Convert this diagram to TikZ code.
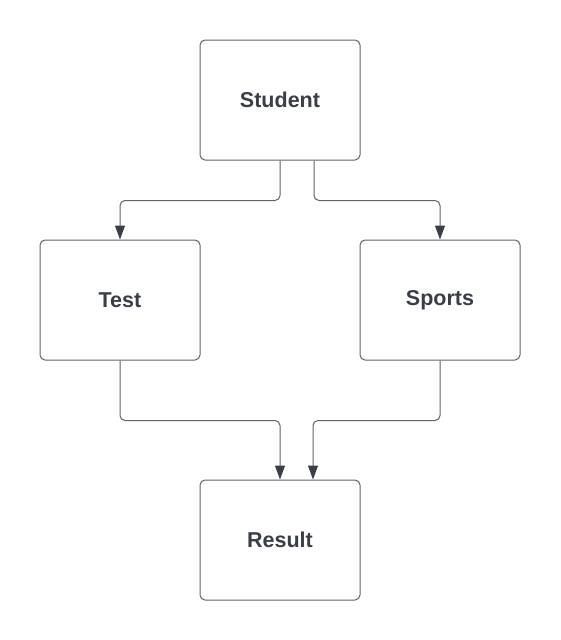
\documentclass[tikz,border=0pt]{standalone}
\usepackage{fontspec}
\setmainfont{Liberation Sans}
\usetikzlibrary{arrows.meta}
\definecolor{inkgray}{HTML}{3A3F47}
\definecolor{linegray}{HTML}{626366}

\begin{document}
\begin{tikzpicture}[x=1pt,y=-1pt,
  entity/.style={draw=linegray,line width=1pt,rounded corners=5pt,
    minimum width=160pt,minimum height=120pt,
    text=inkgray,font=\fontsize{21.5}{25}\selectfont\bfseries},
  link/.style={draw=linegray,line width=1pt,rounded corners=5pt,
    -{Triangle[width=10pt,length=14pt,color=inkgray]}}]
\useasboundingbox (0,0) rectangle (560,640);
\node[entity] (student) at (280,100) {Student};
\node[entity] (test)    at (120,300) {Test};
\node[entity] (sports)  at (440,300) {Sports};
\node[entity] (result)  at (280,540) {Result};
\draw[link] (student.south) -- ++(0,40) -| (test.north);
\draw[link] ([xshift=34pt]student.south) -- ++(0,40) -| (sports.north);
\draw[link] (test.south) -- ++(0,60) -| (result.north);
\draw[link] (sports.south) -- ++(0,60) -| ([xshift=33pt]result.north);
\end{tikzpicture}
\end{document}
